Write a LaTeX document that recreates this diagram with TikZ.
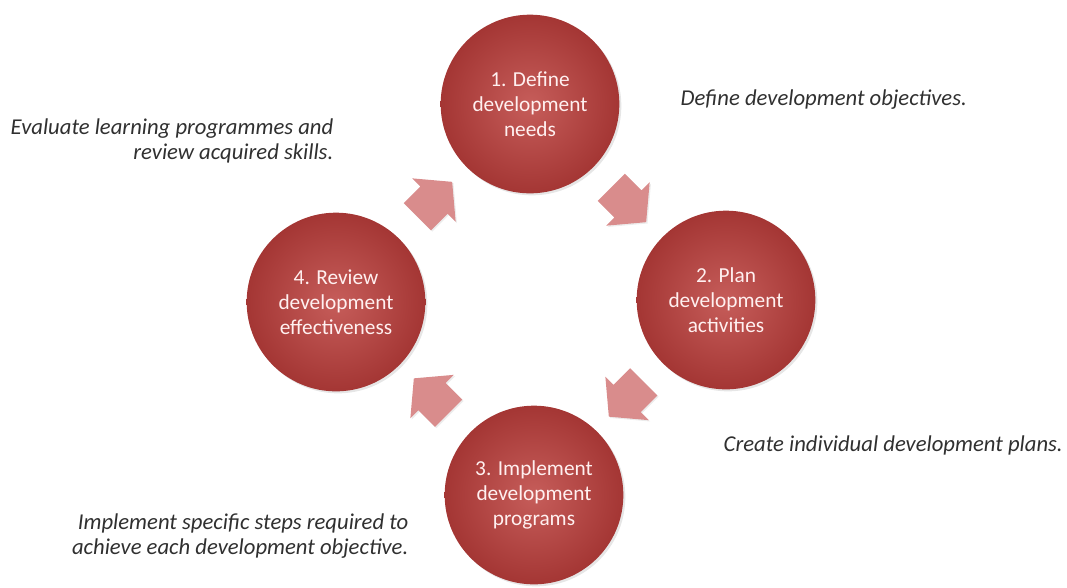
\documentclass[tikz,border=0pt]{standalone}
\usepackage{fontspec}
\setmainfont{Carlito}
\usetikzlibrary{shapes.arrows, shadows, positioning, calc}

\definecolor{stagelight}{HTML}{C65D5A}
\definecolor{stagedark}{HTML}{A43634}
\definecolor{flowpink}{HTML}{D98C8C}
\definecolor{notegray}{HTML}{303030}

\begin{document}
\begin{tikzpicture}[x=0.75pt, y=-0.75pt,
  stage/.style={circle, minimum size=134pt, inner sep=0pt, shading=radial,
    inner color=stagelight, outer color=stagedark, text=white!94!red,
    align=center, font=\fontsize{16}{18.75}\selectfont,
    drop shadow={opacity=0.2, shadow xshift=1.5pt, shadow yshift=-1.5pt}},
  flow/.style={single arrow, draw=none, fill=flowpink, inner xsep=0pt,
    inner ysep=14.25pt, minimum height=37pt, single arrow head extend=8.6pt,
    single arrow tip angle=100,
    drop shadow={opacity=0.15, shadow xshift=1pt, shadow yshift=-1pt}},
  note/.style={text=notegray, font=\itshape\fontsize{17}{18.75}\selectfont}]

  % --- Page frame (reference proportions)
  \useasboundingbox (0,0) rectangle (1067,587);

  % --- Cycle stages
  \node[stage] (s1) at (530,104) {1. Define\\development\\needs};
  \node[stage] (s2) at (726,300) {2. Plan\\development\\activities};
  \node[stage] (s3) at (534,495) {3. Implement\\development\\programs};
  \node[stage] (s4) at (336,302) {4. Review\\development\\effectiveness};

  % --- Block arrows between stages (clockwise)
  \node[flow, rotate=45]   (f41) at ($(s4)!0.5!(s1)+(-4,2)$)  {};
  \node[flow, rotate=-45]  (f12) at ($(s1)!0.5!(s2)+(-5,-3)$) {};
  \node[flow, rotate=-135] (f23) at ($(s2)!0.5!(s3)+(2,-4)$)  {};
  \node[flow, rotate=135]  (f34) at ($(s3)!0.5!(s4)+(2,3)$)   {};

  % --- Stage notes
  \node[note, align=right, anchor=east] (n4) at (338,141)
    {Evaluate learning programmes and\\review acquired skills.};
  \node[note, anchor=west] (n1) at (676,100) {Define development objectives.};
  \node[note, anchor=west] (n2) at (719,445) {Create individual development plans.};
  \node[note, align=right, anchor=east] (n3) at (413,536)
    {Implement specific steps required to\\achieve each development objective.};
\end{tikzpicture}
\end{document}
